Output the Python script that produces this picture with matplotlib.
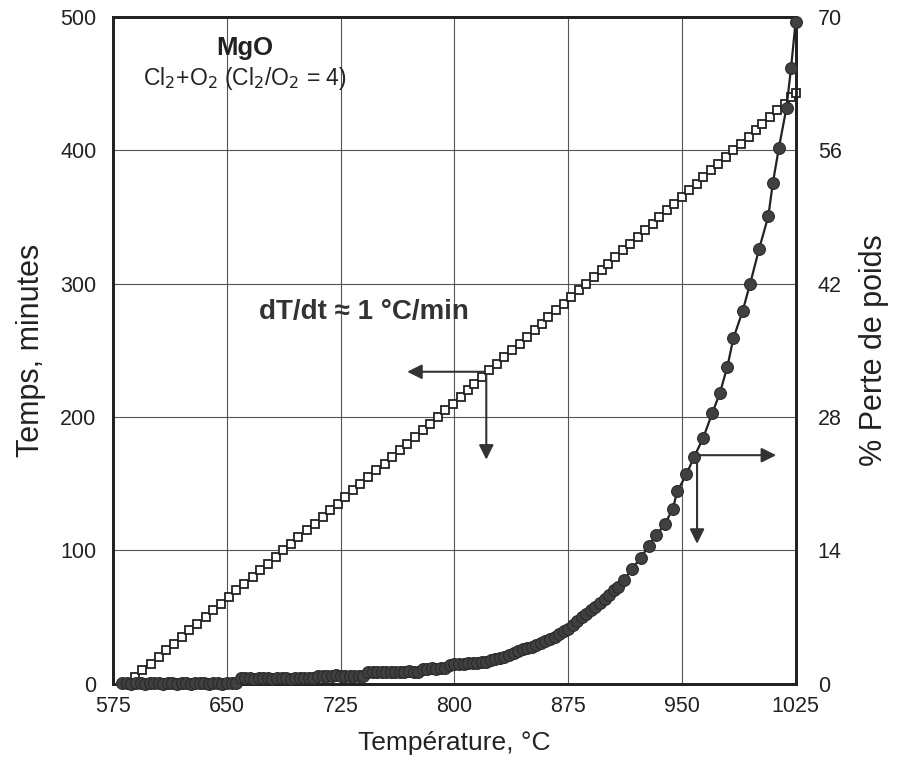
import matplotlib.pyplot as plt

# Temps (minutes) vs temperature, open squares, left axis
temps_min = [0, 5, 10, 15, 20, 25, 30, 35, 40, 45, 50, 55, 60, 65, 70, 75, 80, 85,
             90, 95, 100, 105, 110, 115, 120, 125, 130, 135, 140, 145, 150, 155,
             160, 165, 170, 175, 180, 185, 190, 195, 200, 205, 210, 215, 220, 225,
             230, 235, 240, 245, 250, 255, 260, 265, 270, 275, 280, 285, 290, 295,
             300, 305, 310, 315, 320, 325, 330, 335, 340, 345, 350, 355, 360, 365,
             370, 375, 380, 385, 390, 395, 400, 405, 410, 415, 420, 425, 430, 435,
             440, 443]
temp_time = [584, 589, 594, 600, 605, 610, 615, 620, 625, 630, 636, 641, 646, 651,
             656, 661, 667, 672, 677, 682, 687, 692, 697, 703, 708, 713, 718, 723,
             728, 733, 738, 743, 748, 754, 759, 764, 769, 774, 779, 784, 789, 794,
             799, 804, 809, 813, 818, 823, 828, 833, 838, 843, 848, 853, 858, 862,
             867, 872, 877, 882, 887, 892, 897, 901, 906, 911, 916, 921, 926, 931,
             935, 940, 945, 950, 955, 960, 964, 969, 974, 979, 984, 989, 994, 999,
             1003, 1008, 1013, 1018, 1022, 1025]

# % perte de poids vs temperature, filled circles, right axis
temp_loss = [581, 584, 587, 590, 593, 596, 599, 602, 605, 608, 611, 614, 617, 620,
             623, 626, 629, 632, 635, 638, 641, 644, 647, 650, 653, 656,
             659, 662, 665, 668, 671, 674, 677, 680, 683, 686, 689, 692, 695, 698,
             701, 704, 707,
             710, 713, 716, 719, 722, 725, 728, 731, 734, 737, 740,
             743, 746, 749, 752, 755, 758, 761, 764, 767, 770, 773, 776,
             779, 782, 785, 788, 791, 794,
             797, 800, 803, 806, 809, 812, 815, 818, 821,
             824, 827, 830, 833, 836, 839, 842, 845, 848, 851, 854, 857, 860, 863,
             866, 869, 872, 875, 878, 881, 884, 887, 890, 893, 896, 899, 902, 905,
             908, 912, 917, 923, 928, 933, 939, 944, 947, 953, 958, 964, 970, 975,
             980, 984, 990, 995, 1001, 1007, 1010, 1014, 1019, 1022, 1025]
loss_pct = [0.1, 0.1, 0.0, 0.1, 0.1, 0.0, 0.1, 0.1, 0.1, 0.0, 0.1, 0.1, 0.0, 0.1,
            0.1, 0.0, 0.1, 0.1, 0.1, 0.0, 0.1, 0.1, 0.0, 0.1, 0.1, 0.1,
            0.6, 0.6, 0.6, 0.5, 0.6, 0.6, 0.6, 0.5, 0.6, 0.6, 0.6, 0.5, 0.6, 0.6,
            0.6, 0.6, 0.6,
            0.8, 0.8, 0.8, 0.8, 0.9, 0.8, 0.8, 0.8, 0.8, 0.8, 0.8,
            1.2, 1.2, 1.2, 1.2, 1.2, 1.2, 1.2, 1.2, 1.2, 1.3, 1.2, 1.2,
            1.6, 1.6, 1.7, 1.6, 1.7, 1.7,
            2.0, 2.1, 2.1, 2.1, 2.2, 2.2, 2.2, 2.3, 2.3,
            2.5, 2.6, 2.7, 2.8, 3.0, 3.2, 3.4, 3.6, 3.8, 3.9, 4.1, 4.3, 4.5, 4.7,
            4.9, 5.2, 5.5, 5.8, 6.2, 6.6, 7.0, 7.3, 7.7, 8.1, 8.5, 8.9, 9.3, 9.8,
            10.2, 10.9, 12.1, 13.2, 14.5, 15.6, 16.8, 18.4, 20.2, 22.0, 23.8, 25.8,
            28.4, 30.5, 33.3, 36.3, 39.1, 42.0, 45.7, 49.1, 52.6, 56.3, 60.5, 64.7,
            69.5]

x_ticks = [575, 650, 725, 800, 875, 950, 1025]
left_ticks = [0, 100, 200, 300, 400, 500]
right_ticks = [0, 14, 28, 42, 56, 70]

plt.rcParams["font.family"] = ["Liberation Sans", "DejaVu Sans"]
ink = "#222222"

fig = plt.figure(figsize=(8.99, 7.77), dpi=100)
ax = fig.add_axes([0.126, 0.12, 0.759, 0.858])
ax2 = ax.twinx()

ax.set_xlim(575, 1025)
ax.set_ylim(0, 500)
ax2.set_ylim(0, 70)
ax.set_xticks(x_ticks)
ax.set_yticks(left_ticks)
ax2.set_yticks(right_ticks)

ax.grid(True, color="#555555", lw=0.8)
ax.set_axisbelow(True)
for a in (ax, ax2):
    for s in a.spines.values():
        s.set_linewidth(2)
        s.set_color(ink)
    a.tick_params(length=0, labelsize=15.5, colors=ink)
ax.tick_params(axis="y", pad=12)
ax.tick_params(axis="x", pad=9)
ax2.tick_params(axis="y", pad=16)

ax.plot(temp_time, temps_min, ls="none", marker="s", ms=6, mfc="white",
        mec=ink, mew=1.3, clip_on=False, zorder=3)
ax2.plot(temp_loss, loss_pct, color=ink, lw=1.6, marker="o", ms=8.5,
         mfc="#404040", mec="#2a2a2a", mew=0.8, clip_on=False, zorder=4)

ax.set_xlabel("Température, °C", fontsize=19, color=ink, labelpad=10)
ax.set_ylabel("Temps, minutes", fontsize=22, color=ink, labelpad=10)
ax2.set_ylabel("% Perte de poids", fontsize=22, color=ink, labelpad=12)

ax.text(662, 477, "MgO", ha="center", va="center", fontsize=18.5,
        fontweight="bold", color=ink)
ax.text(662, 454, r"Cl$_2$+O$_2$ (Cl$_2$/O$_2$ = 4)", ha="center", va="center",
        fontsize=16.5, color=ink)
ax.text(740, 279, "dT/dt ≈ 1 °C/min", ha="center", va="center", fontsize=20,
        fontweight="bold", color="#333333")

arrow = dict(arrowstyle="-|>", color="#333333", lw=1.5, mutation_scale=22)
ax.annotate("", xy=(767, 234), xytext=(821, 234), arrowprops=arrow)
ax.annotate("", xy=(821, 166), xytext=(821, 234), arrowprops=arrow)
ax2.annotate("", xy=(1014, 24.0), xytext=(960, 24.0), arrowprops=arrow)
ax2.annotate("", xy=(960, 14.4), xytext=(960, 24.0), arrowprops=arrow)

fig.savefig("out.png", dpi=100)
